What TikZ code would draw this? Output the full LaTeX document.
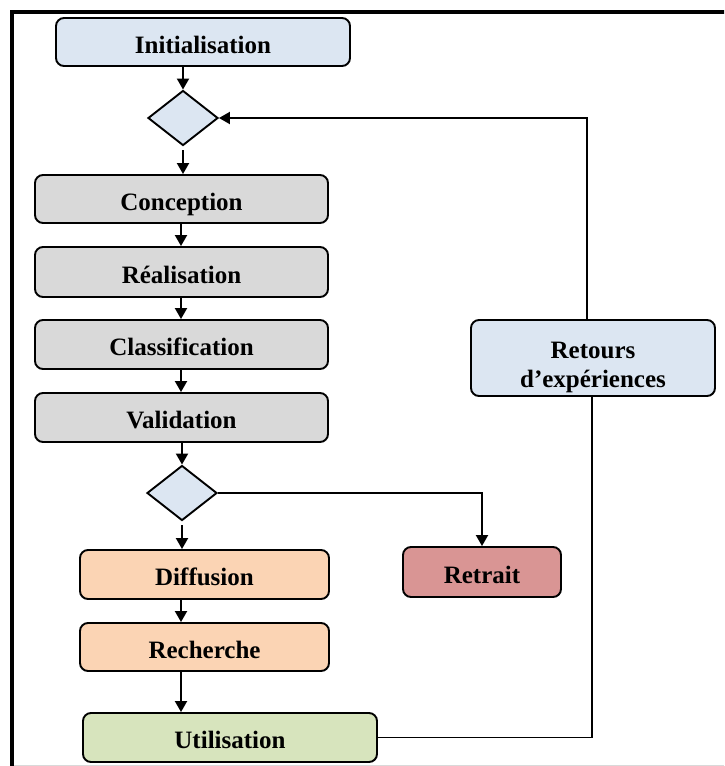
\documentclass[tikz,border=0pt]{standalone}
\usepackage{fontspec}
\setmainfont{Liberation Serif}
\usetikzlibrary{arrows.meta,shapes.geometric,calc}

\definecolor{boxblue}{HTML}{DCE6F2}
\definecolor{boxgray}{HTML}{D9D9D9}
\definecolor{boxpeach}{HTML}{FBD4B4}
\definecolor{boxred}{HTML}{D99594}
\definecolor{boxgreen}{HTML}{D7E4BD}

\begin{document}
\begin{tikzpicture}[x=1pt,y=-1pt,
  stepbox/.style={draw,line width=1.9pt,rounded corners=8pt,inner sep=0pt,
    minimum height=48pt,align=center,
    font=\fontsize{25}{29}\selectfont\bfseries},
  oneline/.style={stepbox,text height=23pt,text depth=1pt},
  choice/.style={draw,diamond,line width=1.9pt,inner sep=0pt,
    minimum width=70pt,minimum height=55pt,fill=boxblue},
  link/.style={line width=1.9pt},
  arr/.style={link,-{Triangle[length=11pt,width=12pt]}}
]
\useasboundingbox (0,0) rectangle (724,766);
\clip (0,0) rectangle (724,766);

% outer frame (top and left edges)
\draw[line width=4pt] (12,800) -- (12,12) -- (760,12);
\draw[black!15,line width=1pt] (14,765.5) -- (724,765.5);

% main column
\node[oneline,fill=boxblue,minimum width=294pt] (init) at (203,42) {Initialisation};
\node[choice] (d1) at (183,118) {};
\node[oneline,fill=boxgray,minimum width=293pt] (conc) at (181.5,199) {Conception};
\node[oneline,fill=boxgray,minimum width=293pt,minimum height=50pt] (real) at (181.5,272) {Réalisation};
\node[oneline,fill=boxgray,minimum width=293pt,minimum height=49pt] (clas) at (181.5,344.5) {Classification};
\node[oneline,fill=boxgray,minimum width=293pt,minimum height=49pt] (vali) at (181.5,417.5) {Validation};
\node[choice] (d2) at (182,493) {};
\node[oneline,fill=boxpeach,minimum width=249pt,minimum height=49pt] (diff) at (204.5,574.5) {Diffusion};
\node[oneline,fill=boxpeach,minimum width=249pt] (rech) at (204.5,647) {Recherche};
\node[oneline,fill=boxgreen,minimum width=294pt,minimum height=49pt] (util) at (230,737.5) {Utilisation};

% side boxes
\node[oneline,fill=boxred,minimum width=158pt,minimum height=50pt] (retr) at (482,572) {Retrait};
\node[stepbox,fill=boxblue,minimum width=244pt,minimum height=76pt] (reto) at (593,358)
  {\rule{0pt}{35pt}Retours\\d’expériences};

% vertical columns used by the connectors
\coordinate (colA) at (183,0);
\coordinate (colB) at (181,0);
\coordinate (fbup) at (587,0);
\coordinate (fbdown) at (592,0);

% connectors
\draw[arr] (init.south -| colA) -- (d1.north);
\draw[arr,shorten <=4pt] (d1.south) -- (conc.north -| d1.south);
\draw[arr] (conc.south -| colB) -- (real.north -| colB);
\draw[arr] (real.south -| colB) -- (clas.north -| colB);
\draw[arr] (clas.south -| colB) -- (vali.north -| colB);
\draw[arr] (vali.south -| d2.north) -- (d2.north);
\draw[arr,shorten <=4pt] (d2.south) -- (diff.north -| d2.south);
\draw[arr] (d2.east) -| (retr.north);
\draw[arr] (diff.south -| colB) -- (rech.north -| colB);
\draw[arr] (rech.south -| colB) -- (util.north -| colB);
\draw[link] (util.east) -- (util.east -| fbdown) -- (reto.south -| fbdown);
\draw[arr] (reto.north -| fbup) |- (d1.east);
\end{tikzpicture}
\end{document}
